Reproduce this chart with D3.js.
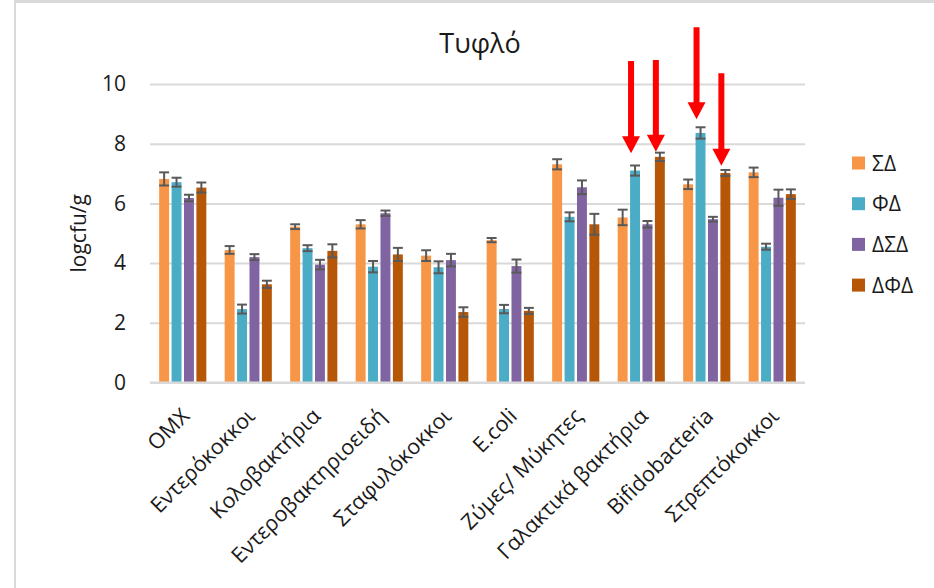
<!DOCTYPE html>
<html>
<head>
<meta charset="utf-8">
<script src="https://cdn.jsdelivr.net/npm/d3@7"></script>
<style>
  html, body { margin: 0; padding: 0; background: #fff; }
  svg { display: block; font-family: "Open Sans", "Noto Sans", sans-serif; }
</style>
</head>
<body>
<svg id="chart" width="934" height="588"></svg>
<script>
// ---- Data ----
const categories = ["OMX", "Εντερόκοκκοι", "Κολοβακτήρια", "Εντεροβακτηριοειδή", "Σταφυλόκοκκοι",
  "E.coli", "Ζύμες/ Μύκητες", "Γαλακτικά βακτήρια", "Bifidobacteria", "Στρεπτόκοκκοι"];
const seriesNames = ["ΣΔ", "ΦΔ", "ΔΣΔ", "ΔΦΔ"];
const seriesColors = ["#F79646", "#4BACC6", "#8064A2", "#B65708"];

const valuesSD  = [6.82, 4.44, 5.22, 5.30, 4.25, 4.77, 7.31, 5.53, 6.64, 7.04];
const valuesFD  = [6.71, 2.46, 4.50, 3.88, 3.86, 2.46, 5.55, 7.10, 8.36, 4.55];
const valuesDSD = [6.18, 4.20, 3.95, 5.67, 4.10, 3.90, 6.54, 5.30, 5.47, 6.19];
const valuesDFD = [6.53, 3.29, 4.41, 4.29, 2.36, 2.40, 5.30, 7.56, 7.02, 6.31];

const errSD  = [0.22, 0.13, 0.08, 0.14, 0.18, 0.07, 0.17, 0.26, 0.16, 0.16];
const errFD  = [0.15, 0.15, 0.10, 0.19, 0.20, 0.14, 0.15, 0.17, 0.19, 0.10];
const errDSD = [0.11, 0.10, 0.16, 0.09, 0.21, 0.22, 0.23, 0.11, 0.08, 0.27];
const errDFD = [0.17, 0.12, 0.22, 0.22, 0.16, 0.10, 0.35, 0.14, 0.10, 0.16];

const yTicks = [0, 2, 4, 6, 8, 10];

// Red arrow annotations (category, series, start value, tip value)
const arrowCategories = ["Γαλακτικά βακτήρια", "Γαλακτικά βακτήρια", "Bifidobacteria", "Bifidobacteria"];
const arrowSeries = ["ΦΔ", "ΔΦΔ", "ΦΔ", "ΔΦΔ"];
const arrowFrom = [10.77, 10.80, 11.90, 10.36];
const arrowTo   = [7.68, 7.73, 8.82, 7.26];

const allValues = [valuesSD, valuesFD, valuesDSD, valuesDFD];
const allErrors = [errSD, errFD, errDSD, errDFD];

// ---- Layout ----
const svg = d3.select("#chart");
const plot = { left: 150, right: 805, top: 84, bottom: 382.5 };

const x0 = d3.scaleBand().domain(categories).range([plot.left, plot.right]).padding(0);
const groupW = x0.bandwidth() * 0.72;
const x1 = d3.scaleBand().domain(seriesNames).range([-groupW / 2, groupW / 2]).paddingInner(0.2);
const y = d3.scaleLinear().domain([0, 10]).range([plot.bottom, plot.top]);

// Frame
svg.append("line").attr("x1", 15).attr("x2", 934).attr("y1", 1.5).attr("y2", 1.5)
  .attr("stroke", "#D9D9D9").attr("stroke-width", 3);
svg.append("line").attr("x1", 15).attr("x2", 15).attr("y1", 0).attr("y2", 588)
  .attr("stroke", "#D9D9D9").attr("stroke-width", 2);

// Gridlines
const yAxis = d3.axisLeft(y).tickValues(yTicks).tickSize(-(plot.right - plot.left)).tickPadding(24);
const gy = svg.append("g").attr("transform", `translate(${plot.left},0)`).call(yAxis);
gy.select(".domain").remove();
gy.selectAll(".tick line").attr("stroke", "#D9D9D9").attr("stroke-width", 2);
gy.selectAll(".tick text").attr("font-size", 21).attr("fill", "#1a1a1a")
  .attr("font-family", "Open Sans, Noto Sans, sans-serif");

// Bars
const rows = [];
categories.forEach((c, i) => {
  seriesNames.forEach((s, j) => {
    rows.push({ cat: c, series: s, value: allValues[j][i], err: allErrors[j][i], color: seriesColors[j] });
  });
});

svg.append("g").selectAll("rect").data(rows).join("rect")
  .attr("x", d => x0(d.cat) + x0.bandwidth() / 2 + x1(d.series))
  .attr("y", d => y(d.value))
  .attr("width", x1.bandwidth())
  .attr("height", d => y(0) - y(d.value))
  .attr("fill", d => d.color);

// Baseline
svg.append("line").attr("x1", plot.left).attr("x2", plot.right)
  .attr("y1", y(0)).attr("y2", y(0)).attr("stroke", "#D9D9D9").attr("stroke-width", 2);

// Error bars
const eb = svg.append("g").attr("stroke", "#595959").attr("stroke-width", 2);
rows.forEach(d => {
  const cx = x0(d.cat) + x0.bandwidth() / 2 + x1(d.series) + x1.bandwidth() / 2;
  const hw = x1.bandwidth() / 2;
  eb.append("line").attr("x1", cx).attr("x2", cx).attr("y1", y(d.value + d.err)).attr("y2", y(d.value - d.err));
  eb.append("line").attr("x1", cx - hw).attr("x2", cx + hw).attr("y1", y(d.value + d.err)).attr("y2", y(d.value + d.err));
  eb.append("line").attr("x1", cx - hw).attr("x2", cx + hw).attr("y1", y(d.value - d.err)).attr("y2", y(d.value - d.err));
});

// X labels
const xl = svg.append("g");
categories.forEach(c => {
  const cx = x0(c) + x0.bandwidth() / 2;
  xl.append("text")
    .attr("transform", `translate(${cx + 8},${plot.bottom + 35}) rotate(-45)`)
    .attr("text-anchor", "end")
    .attr("font-size", 21.5)
    .attr("fill", "#1a1a1a")
    .text(c);
});

// Title
svg.append("text").attr("x", 480).attr("y", 53).attr("text-anchor", "middle")
  .attr("font-size", 27).attr("fill", "#1a1a1a").text("Τυφλό");

// Y axis label
svg.append("text").attr("transform", `translate(86,${(plot.top + plot.bottom) / 2}) rotate(-90)`)
  .attr("text-anchor", "middle").attr("font-size", 21).attr("fill", "#1a1a1a").text("logcfu/g");

// Legend
const lg = svg.append("g").attr("transform", "translate(852,163)");
seriesNames.forEach((s, j) => {
  const g = lg.append("g").attr("transform", `translate(0,${j * 40.7})`);
  g.append("rect").attr("x", 0).attr("y", -6.5).attr("width", 13).attr("height", 13).attr("fill", seriesColors[j]);
  g.append("text").attr("x", 20).attr("y", 0).attr("dy", "0.36em").attr("font-size", 21)
    .attr("fill", "#1a1a1a").text(s);
});

// Arrows
const ar = svg.append("g").attr("fill", "#FF0000");
arrowCategories.forEach((c, k) => {
  const ax = x0(c) + x0.bandwidth() / 2 + x1(arrowSeries[k]) + x1.bandwidth() / 2 - 4;
  const yTop = y(arrowFrom[k]);
  const yTip = y(arrowTo[k]);
  const headH = 17, headW = 18, shaftW = 6;
  ar.append("path").attr("d",
    `M${ax - shaftW / 2},${yTop} L${ax + shaftW / 2},${yTop} L${ax + shaftW / 2},${yTip - headH} ` +
    `L${ax + headW / 2},${yTip - headH} L${ax},${yTip} L${ax - headW / 2},${yTip - headH} ` +
    `L${ax - shaftW / 2},${yTip - headH} Z`);
});
</script>
</body>
</html>
